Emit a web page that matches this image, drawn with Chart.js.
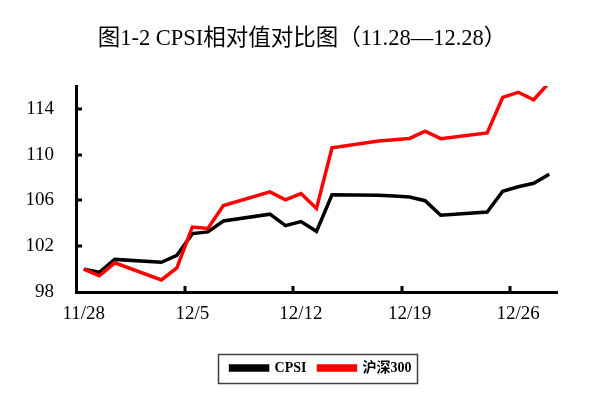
<!DOCTYPE html>
<html><head><meta charset="utf-8">
<script src="https://cdn.jsdelivr.net/npm/chart.js@4.4.0/dist/chart.umd.min.js"></script>
<style>html,body{margin:0;padding:0;background:#fff}#wrap{width:604px;height:393px;position:relative}</style>
</head><body><div id="wrap"><canvas id="c" width="604" height="393"></canvas></div>
<script>
// ---- data ----
const titleText = '图1-2 CPSI相对值对比图（11.28—12.28）';
const seriesNames = ['CPSI', '沪深300'];
const tradeDates = ['11/28','11/29','11/30','12/3','12/4','12/5','12/6','12/7','12/10','12/11','12/12','12/13','12/14','12/17','12/18','12/19','12/20','12/21','12/24','12/25','12/26','12/27','12/28'];
const cpsi  = [100.0, 99.72, 100.85, 100.6, 101.2, 103.1, 103.25, 104.2, 104.8, 103.8, 104.15, 103.3, 106.5, 106.45, 106.38, 106.3, 105.98, 104.7, 104.98, 106.8, 107.2, 107.5, 108.28];
const hs300 = [100.0, 99.42, 100.55, 99.05, 100.1, 103.68, 103.55, 105.55, 106.75, 106.05, 106.6, 105.3, 110.6, 111.2, 111.3, 111.42, 112.05, 111.4, 111.9, 115.0, 115.45, 114.8, 116.3];
const xTickLabels = ['11/28','12/5','12/12','12/19','12/26'];
const yTickValues = [98, 102, 106, 110, 114];
const yMin = 98, yMax = 116;
const axisYear = 2012;

// full calendar-day category axis (date axis) from first to last trade date
function parseMD(s){const [m,d]=s.split('/').map(Number);return new Date(axisYear,m-1,d);}
const dayLabels = [];
for (let d = parseMD(tradeDates[0]); d <= parseMD(tradeDates[tradeDates.length-1]); d.setDate(d.getDate()+1)) {
  dayLabels.push((d.getMonth()+1)+'/'+d.getDate());
}
const toPoints = arr => tradeDates.map((x,i)=>({x, y: arr[i]}));

const serif = "'Liberation Serif','Times New Roman',serif";
const cjkSerif = "'Liberation Serif','Noto Sans CJK SC',serif";

const boxShift = {
  id: 'boxShift',
  afterLayout(chart) {
    const t = chart.titleBlock, lg = chart.legend, W = chart.width;
    if (t) { const d = W/2 - (t.left + t.right)/2; t.left += d; t.right += d; }
    if (lg) { const d = W/2 + 19 - (lg.left + lg.right)/2; lg.left += d; lg.right += d; }
  }
};

const frameAndTicks = {
  id: 'frameAndTicks',
  afterDraw(chart) {
    const ctx = chart.ctx, xs = chart.scales.x, ys = chart.scales.y, ca = chart.chartArea;
    ctx.save();
    ctx.strokeStyle = '#000';
    ctx.lineWidth = 3;
    yTickValues.forEach(v => {
      if (v === yMin) return;
      const y = Math.round(ys.getPixelForValue(v));
      ctx.beginPath(); ctx.moveTo(ca.left, y); ctx.lineTo(ca.left + 6, y); ctx.stroke();
    });
    const half = (xs.getPixelForValue(1) - xs.getPixelForValue(0)) / 2;
    xTickLabels.forEach(lbl => {
      const i = dayLabels.indexOf(lbl);
      if (i <= 0) return;
      const x = Math.round(xs.getPixelForValue(i) - half);
      ctx.beginPath(); ctx.moveTo(x, ca.bottom); ctx.lineTo(x, ca.bottom - 6); ctx.stroke();
    });
    const hb = chart.legend.legendHitBoxes;
    if (hb && hb.length) {
      const l = Math.min(...hb.map(b=>b.left)) - 13;
      const r = Math.max(...hb.map(b=>b.left+b.width)) + 5;
      const cy = hb[0].top + hb[0].height/2;
      ctx.lineWidth = 1.5;
      ctx.strokeStyle = '#404040';
      ctx.strokeRect(Math.round(l)+0.5, Math.round(cy - 14.5)+0.5, Math.round(r - l), 29);
    }
    ctx.restore();
  }
};

new Chart(document.getElementById('c'), {
  type: 'line',
  data: {
    labels: dayLabels,
    datasets: [
      { label: seriesNames[1], data: toPoints(hs300), borderColor: '#ff0000', backgroundColor: '#ff0000', borderWidth: 3.5, pointRadius: 0, tension: 0, clip: 0 },
      { label: seriesNames[0], data: toPoints(cpsi), borderColor: '#000000', backgroundColor: '#000000', borderWidth: 3.5, pointRadius: 0, tension: 0, clip: 0 }
    ]
  },
  options: {
    responsive: false, animation: false, devicePixelRatio: 1,
    layout: { padding: { left: 0, right: 47, top: 0, bottom: 8 } },
    plugins: {
      title: { display: true, text: titleText, color: '#000',
        font: { family: cjkSerif, size: 22.5, weight: 'normal' },
        padding: { top: 26, bottom: 33 } },
      legend: { position: 'bottom', reverse: true,
        labels: { color: '#000', boxWidth: 37, boxHeight: 4, padding: 12,
          font: { family: cjkSerif, size: 14, weight: 'bold' } } },
      tooltip: { enabled: false }
    },
    scales: {
      x: {
        type: 'category', offset: true,
        grid: { display: false, drawTicks: false, offset: true },
        border: { display: true, color: '#000', width: 3 },
        ticks: { autoSkip: false, maxRotation: 0, minRotation: 0, padding: 11, color: '#000',
          font: { family: serif, size: 19 },
          callback: function(v) { const l = this.getLabelForValue(v); return xTickLabels.includes(l) ? l : ''; } },
        afterFit: s => { s.height = 57; }
      },
      y: {
        min: yMin, max: yMax,
        grid: { display: false, drawTicks: false },
        border: { display: true, color: '#000', width: 3 },
        ticks: { padding: 22, color: '#000', font: { family: serif, size: 19 } },
        afterBuildTicks: s => { s.ticks = yTickValues.map(v => ({ value: v })); },
        afterFit: s => { s.width = 76; }
      }
    }
  },
  plugins: [boxShift, frameAndTicks]
});
</script></body></html>
